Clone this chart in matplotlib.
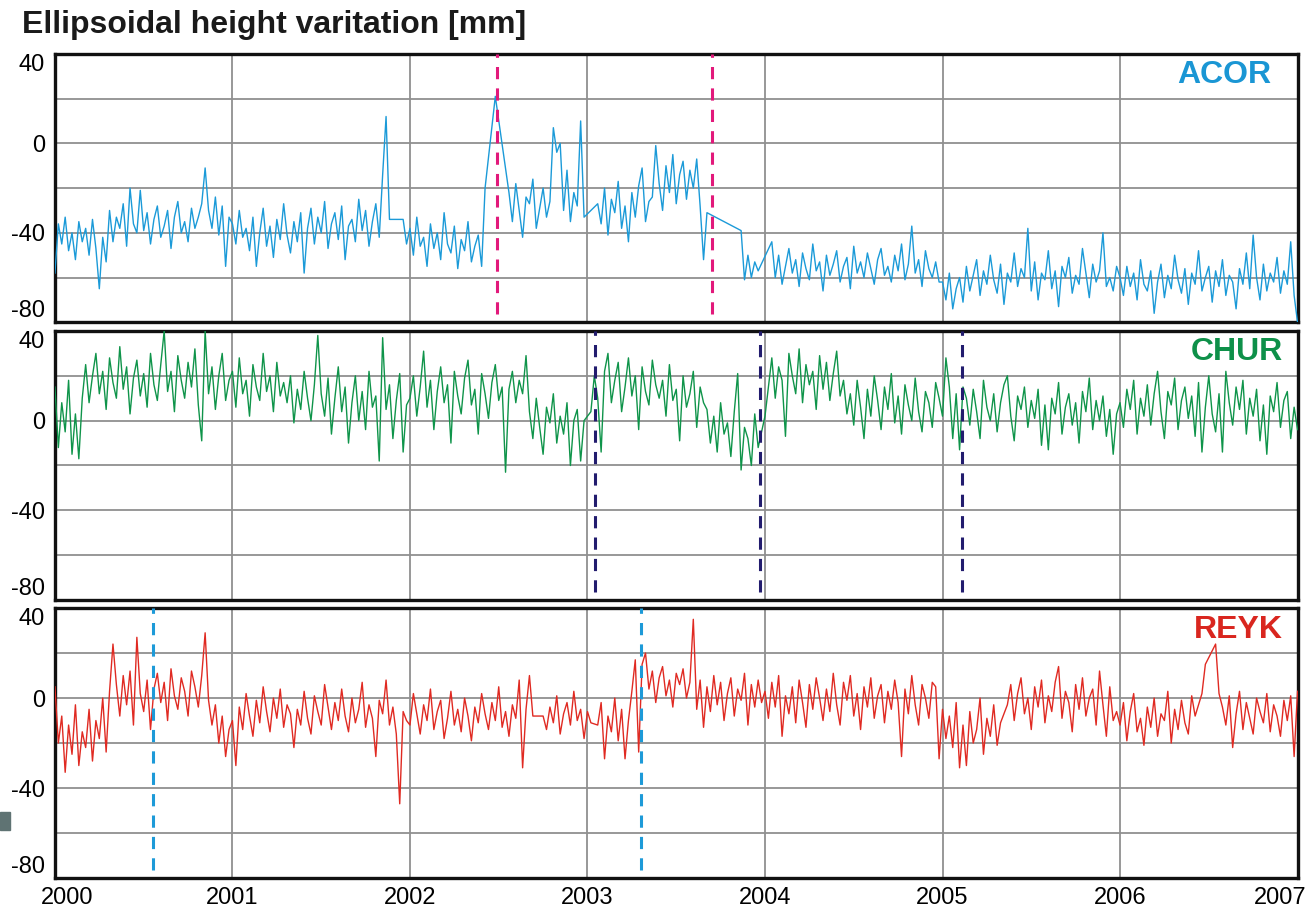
import numpy as np
import matplotlib.pyplot as plt
from matplotlib.patches import Rectangle

plt.rcParams['font.family'] = ['Liberation Sans', 'DejaVu Sans']
plt.rcParams['axes.unicode_minus'] = False

N = None          # no solution that week (line is drawn straight across)
PER_YEAR = 52     # weekly samples, first one at 2000.0

# Ellipsoidal height [mm], read week by week from the figure
acor = [
    # 2000
    -58, -36, -45, -33, -48, -40, -52, -35, -44, -38, -50, -34, -47, -65, -42, -53,
    -30, -44, -33, -38, -27, -46, -20, -36, -40, -21, -39, -31, -45, -34, -28, -42,
    -37, -30, -47, -33, -26, -40, -35, -44, -29, -38, -33, -27, -11, -30, -38, -24,
    -41, -28, -55, -33,
    # 2001
    -36, -45, -30, -42, -38, -48, -33, -55, -40, -29, -46, -37, -51, -34, -43, -27,
    -41, -49, -35, -44, -31, -58, -38, -29, -45, -33, -40, -26, -47, -36, -31, -43,
    -28, -52, -37, -34, -44, -25, -39, -30, -46, -35, -27, -42, -14, 12, -34, N,
    N, N, -34, -45,
    # 2002
    -38, -50, -33, -46, -42, -55, -36, -47, -40, -52, -31, -45, -49, -37, -56, -43,
    -48, -35, -53, -46, -41, -55, -20, N, N, 21, N, N, N, -22, -35, -18,
    -30, -42, -24, -27, -16, -38, -29, -20, -33, -26, 7, -4, 0, -30, -12, -35,
    -22, -28, 10, -33,
    # 2003
    N, N, N, -27, -36, -20, -41, -25, -31, -17, -38, -28, -44, -22, -33, -19,
    -11, -35, -26, -24, -1, -18, -30, -10, -22, -5, -27, -14, -8, -25, -12, -20,
    -7, -28, -52, -31, N, N, N, N, N, N, N, N, N, -39, -61, -50,
    -60, -53, -57, N,
    # 2004
    N, N, -44, -60, -50, -63, -55, -47, -58, -52, -64, -49, -56, -61, -45, -57,
    -53, -66, -50, -59, -54, -48, -62, -55, -51, -65, -46, -58, -53, -60, -49, -56,
    -63, -52, -47, -59, -55, -62, -50, -57, -45, -61, -54, -37, -58, -52, -64, -48,
    -56, -60, -53, -62,
    # 2005
    -62, -70, -58, -74, -65, -60, -71, -55, -66, -59, -52, -68, -57, -63, -50, -61,
    -67, -54, -72, -58, -62, -49, -64, -56, -60, -38, -66, -53, -70, -58, -61, -48,
    -65, -57, -73, -55, -60, -51, -67, -59, -63, -47, -58, -69, -54, -62, -57, -40,
    -64, -60, -66, -55,
    # 2006
    -60, -68, -55, -64, -58, -70, -52, -63, -66, -57, -76, -62, -54, -69, -59, -65,
    -50, -61, -67, -56, -72, -58, -63, -48, -66, -60, -55, -71, -57, -64, -52, -68,
    -59, -62, -74, -56, -63, -49, -65, -41, -60, -70, -54, -66, -58, -62, -51, -67,
    -57, -63, -44, -68,
    # 2007.0
    -80,
]

chur = [
    # 2000
    15, -12, 8, -5, 18, -15, 3, -17, 10, 25, 8, 20, 30, 12, 22, 5,
    28, 17, 10, 33, 14, 24, 3, 19, 27, 11, 21, 6, 30, 16, 9, 25,
    40, 13, 22, 4, 29, 18, 10, 26, 15, 32, 7, -9, 40, 12, 24, 5,
    20, 30, 9, 18,
    # 2001
    22, 6, 28, 12, 18, 2, 25, 15, 9, 30, 13, 20, 4, 26, 11, 17,
    8, 20, -1, 14, 5, 22, 10, 0, 16, 38, 12, 2, 19, -6, 10, 24,
    4, 15, -10, 8, 20, 0, 13, -4, 22, 6, 11, -18, 37, 5, 16, -8,
    9, 21, -14, 7,
    # 2002
    10, 20, 2, 15, 31, 6, 18, -4, 13, 24, 8, 16, -10, 22, 11, 3,
    19, 27, 7, 14, -6, 21, 12, 1, 17, 25, 9, 15, -23, 14, 22, 8,
    18, 12, 29, 4, -8, 10, -3, -15, 6, -1, 12, -10, 2, -6, 8, -20,
    0, 5, -18, 0,
    # 2003
    N, 4, 20, 10, -14, 22, 30, 8, 18, 26, 4, 15, 28, 11, 20, -4,
    24, 13, 7, 27, 16, 10, 18, 2, 25, 9, 14, -9, 20, 6, 12, 22,
    -3, 15, 8, 5, -10, 2, -14, 8, -6, -1, -16, 4, 21, -22, -3, -8,
    -20, 3, -12, -5,
    # 2004
    2, 15, 28, 10, 24, 18, -7, 30, 20, 12, 32, 8, 25, 16, 22, 5,
    29, 14, 26, 9, 21, 31, 11, 18, 3, 12, -2, 18, 6, -8, 14, 2,
    20, 9, -4, 15, 5, 21, -1, 11, -6, 16, 7, 0, 19, 4, -5, 13,
    8, -3, 17, 10,
    # 2005
    2, 28, 15, -8, 12, -13, 15, 10, -2, 14, 4, -8, 18, 6, 0, 12,
    -5, 8, 16, 20, 2, -9, 11, 5, 15, -3, 9, 1, 14, -11, 7, -13,
    10, 3, 17, -6, 6, 12, -2, 8, -10, 13, 4, 19, -4, 9, 0, 11,
    -7, 5, -15, 3,
    # 2006
    8, -3, 14, 5, 18, -6, 10, 2, 16, -2, 12, 22, 4, -8, 13, 7,
    19, -4, 9, 15, 1, 11, -7, 17, -14, 6, 20, 3, -5, 12, -14, 22,
    8, -2, 15, 5, 18, -6, 10, 2, 14, -9, 7, -15, 11, 4, 17, -3,
    9, 13, -8, 6,
    # 2007.0
    -4,
]

reyk = [
    # 2000
    5, -20, -8, -33, -12, -25, -3, -30, -15, -22, -5, -28, -10, -18, 0, -24,
    3, 24, 6, -8, 10, -3, 12, -12, 27, 2, -6, 8, -14, 4, 11, -2,
    7, -10, 13, 1, -5, 9, 3, -8, 12, 5, -4, 10, 29, -1, -12, -3,
    -20, -8, -26, -14,
    # 2001
    -10, -30, -4, -14, 2, -8, -17, -1, -11, 5, -6, -15, 0, -9, 4, -13,
    -3, -7, -22, -5, -12, 3, -9, -16, 1, -6, -12, 6, -4, -14, -2, -10,
    4, -8, -15, 0, -11, -5, 7, -13, -3, -9, -26, -1, -7, 8, -12, -4,
    -16, -47, -6, -10,
    # 2002
    -12, 2, -7, -16, -3, -10, 4, -14, -6, -1, -18, -9, 3, -12, -5, -15,
    0, -8, -19, -4, -11, 2, -7, -14, -2, -10, 5, -13, -6, -17, -3, -9,
    8, -31, -5, 10, -8, N, N, -8, -14, -4, -11, 1, -16, -7, -2, -12,
    3, -10, -5, -18,
    # 2003
    -6, -11, N, -12, -2, -27, -8, -15, 0, -19, -5, -27, -10, 3, 17, -24,
    15, 20, 4, 12, -2, 9, 14, 1, 8, -4, 11, 6, 13, 0, 7, 35,
    -5, 8, -13, 5, -6, 10, -3, 7, -10, 2, 9, -8, 4, -1, 11, -12,
    6, -4, 8, -2,
    # 2004
    3, -9, 7, -4, 10, -17, 1, -7, 5, -11, 8, -2, -13, 6, -5, 9,
    0, -10, 4, -6, 11, -3, -12, 7, -1, 10, -8, 2, -14, 5, -4, 9,
    -9, 1, 6, -11, 3, -5, 8, -2, -26, 4, -7, 10, -3, -12, 6, 0,
    -9, 7, 5, -27,
    # 2005
    -5, -18, -8, -22, -2, -31, -12, -30, -6, -20, -14, 0, -25, -9, -17, -3,
    -21, -11, -7, -3, 6, -10, 2, 9, -7, 0, -14, 5, -4, 8, -11, 1,
    -6, 7, 14, -9, 3, -2, -15, 6, -5, 9, -8, 0, 4, -12, 12, -3,
    -17, 5, -10, -6,
    # 2006
    -12, -2, -19, -6, 2, -15, -9, -21, -4, -13, 0, -17, -7, -10, 3, -20,
    -5, -14, -1, -11, -16, 1, -8, -3, 2, 15, N, N, 24, 2, -4, -12,
    1, -22, -7, 3, -14, -2, -9, -16, 0, -6, -11, 2, -15, -3, -8, -17,
    -1, -10, 1, -26,
    # 2007.0
    3,
]

stations = ['ACOR', 'CHUR', 'REYK']
line_colors = ['#1b9ad8', '#0f944a', '#e02a22']
label_colors = ['#1a96d4', '#0e9049', '#d9261f']
# epochs of the dashed vertical lines (equipment changes)
breaks = [[2002.49, 2003.70], [2003.04, 2003.97, 2005.11], [2000.55, 2003.30]]
break_colors = ['#e2197b', '#221c6e', '#1d9ad8']
label_x = [0.979, 0.988, 0.988]
year_labels = ['2000', '2001', '2002', '2003', '2004', '2005', '2006', '2007']


def to_xy(values):
    v = np.array([np.nan if x is None else x for x in values], dtype=float)
    t = 2000 + np.arange(len(v)) / PER_YEAR
    ok = ~np.isnan(v)
    return t[ok], v[ok]


fig = plt.figure(figsize=(13.08, 9.13), dpi=100)
fig.text(22 / 1308, 1 - 25 / 913, 'Ellipsoidal height varitation [mm]',
         fontsize=23, fontweight='bold', va='center', ha='left', color='#1a1a1a')

panels = [[0.042, 0.647, 0.950, 0.294],
          [0.042, 0.3428, 0.950, 0.2947],
          [0.042, 0.0383, 0.950, 0.2957]]

for i, data in enumerate([acor, chur, reyk]):
    ax = fig.add_axes(panels[i])
    t, v = to_xy(data)
    ax.plot(t, v, color=line_colors[i], lw=1.0, zorder=3)
    for b in breaks[i]:
        ax.axvline(b, ymin=0.03, ymax=1, color=break_colors[i], lw=2.2,
                   ls=(0, (4, 3)), zorder=4)

    ax.set_xlim(2000, 2007)
    ax.set_ylim(-80, 40)
    ax.set_xticks(range(2001, 2007))
    ax.set_xticklabels([])
    ax.set_yticks([-80, -40, 0, 40])
    ax.set_yticks([-60, -20, 20], minor=True)
    ax.tick_params(which='both', length=0, labelsize=17, pad=7)
    ax.grid(which='both', color='#909090', lw=1.3, zorder=1)
    yl = ax.get_yticklabels()
    yl[0].set_verticalalignment('bottom')
    yl[-1].set_verticalalignment('top')
    for s in ax.spines.values():
        s.set_linewidth(2.4)
        s.set_color('#111111')

    ax.text(label_x[i], 0.92, stations[i], transform=ax.transAxes, ha='right',
            va='center', fontsize=23, fontweight='bold', color=label_colors[i])

    if i == 2:
        tr = ax.get_xaxis_transform()
        for k, lab in enumerate(year_labels):
            x = 2000 + k
            if k == 0:
                x += 0.07
            elif k == 7:
                x -= 0.1
            ax.text(x, -0.035, lab, transform=tr, ha='center', va='top', fontsize=17)

# small grey mark at the left border of the original scan
fig.patches.append(Rectangle((0, 1 - 830 / 913), 10 / 1308, 18 / 913,
                             transform=fig.transFigure, color='#5f7373'))

fig.savefig('out.png', dpi=100)
